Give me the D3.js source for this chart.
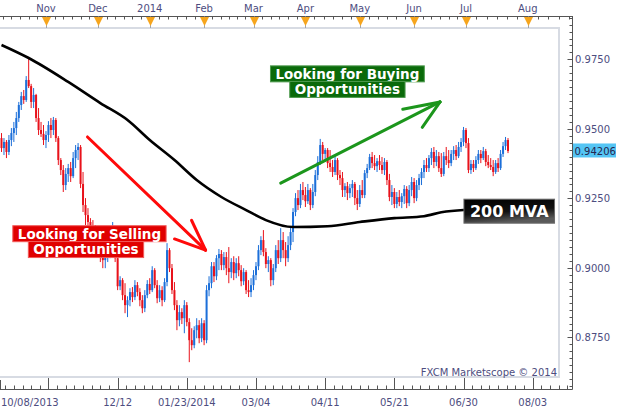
<!DOCTYPE html>
<html><head><meta charset="utf-8">
<script src="https://cdn.jsdelivr.net/npm/d3@7"></script>
<style>html,body{margin:0;padding:0;background:#fff;}svg{display:block;}</style>
</head><body><svg id="chart" width="623" height="413"></svg>
<script>
// ---------------- DATA ----------------
const startDate = "2013-10-08";
const holidays = ["2013-12-25", "2014-01-01"];
const futureEnd = "2014-08-10";

const open = [
0.9467,0.9431,0.9453,0.9417,0.9460,0.9485,0.9503,0.9539,0.9586,0.9618,
0.9604,0.9676,0.9654,0.9597,0.9622,0.9539,0.9496,0.9482,0.9460,0.9478,
0.9514,0.9496,0.9532,0.9467,0.9388,0.9352,0.9298,0.9338,0.9359,0.9330,
0.9395,0.9424,0.9435,0.9302,0.9226,0.9190,0.9165,0.9143,0.9129,0.9114,
0.9086,0.9042,0.9028,0.9050,0.9064,0.9078,0.9107,0.9035,0.8934,0.8956,
0.8902,0.8866,0.8884,0.8913,0.8895,0.8938,0.8913,0.8884,0.8855,0.8902,
0.8942,0.8920,0.8992,0.8938,0.8891,0.8920,0.8884,0.8949,0.9064,0.8999,
0.8920,0.8866,0.8812,0.8841,0.8819,0.8866,0.8805,0.8740,0.8722,0.8776,
0.8794,0.8747,0.8801,0.8740,0.8920,0.8945,0.9006,0.8970,0.9035,0.9050,
0.9010,0.9039,0.8999,0.8985,0.9021,0.8981,0.9017,0.8992,0.8952,0.8985,
0.8920,0.8913,0.8938,0.8974,0.9006,0.9064,0.9100,0.9057,0.9014,0.9028,
0.8956,0.8999,0.9064,0.9035,0.9100,0.9064,0.9035,0.9082,0.9129,0.9201,
0.9251,0.9226,0.9280,0.9262,0.9240,0.9280,0.9226,0.9273,0.9334,0.9381,
0.9442,0.9410,0.9424,0.9377,0.9363,0.9345,0.9388,0.9334,0.9323,0.9280,
0.9294,0.9269,0.9287,0.9302,0.9251,0.9230,0.9280,0.9262,0.9341,0.9359,
0.9399,0.9377,0.9366,0.9384,0.9370,0.9352,0.9381,0.9316,0.9255,0.9273,
0.9230,0.9255,0.9237,0.9258,0.9284,0.9233,0.9280,0.9309,0.9251,0.9298,
0.9323,0.9345,0.9370,0.9359,0.9395,0.9417,0.9381,0.9402,0.9359,0.9338,
0.9402,0.9388,0.9377,0.9410,0.9424,0.9402,0.9435,0.9453,0.9496,0.9449,
0.9352,0.9374,0.9359,0.9388,0.9410,0.9395,0.9420,0.9381,0.9370,0.9363,
0.9345,0.9377,0.9359,0.9410,0.9438,0.9460];

const high = [
0.9485,0.9467,0.9460,0.9478,0.9503,0.9525,0.9561,0.9597,0.9633,0.9640,
0.9690,0.9755,0.9662,0.9647,0.9626,0.9575,0.9525,0.9514,0.9492,0.9528,
0.9539,0.9543,0.9539,0.9474,0.9395,0.9370,0.9359,0.9374,0.9381,0.9417,
0.9442,0.9449,0.9442,0.9345,0.9251,0.9215,0.9179,0.9172,0.9154,0.9143,
0.9107,0.9071,0.9064,0.9078,0.9100,0.9165,0.9129,0.9042,0.8970,0.8963,
0.8945,0.8898,0.8927,0.8931,0.8956,0.8949,0.8927,0.8902,0.8920,0.8956,
0.8963,0.9006,0.8999,0.8956,0.8938,0.8934,0.8963,0.9089,0.9071,0.9014,
0.8949,0.8884,0.8866,0.8855,0.8884,0.8877,0.8819,0.8783,0.8790,0.8819,
0.8812,0.8819,0.8812,0.8938,0.8970,0.9021,0.9021,0.9046,0.9068,0.9064,
0.9057,0.9057,0.9075,0.9035,0.9042,0.9035,0.9042,0.9010,0.8999,0.8992,
0.8956,0.8963,0.8992,0.9021,0.9082,0.9114,0.9136,0.9071,0.9042,0.9035,
0.9014,0.9082,0.9100,0.9143,0.9129,0.9093,0.9114,0.9147,0.9215,0.9269,
0.9280,0.9302,0.9309,0.9291,0.9302,0.9287,0.9302,0.9352,0.9402,0.9464,
0.9453,0.9431,0.9431,0.9424,0.9388,0.9402,0.9395,0.9352,0.9345,0.9305,
0.9309,0.9302,0.9316,0.9309,0.9280,0.9298,0.9316,0.9352,0.9374,0.9410,
0.9417,0.9406,0.9395,0.9406,0.9399,0.9395,0.9388,0.9338,0.9298,0.9287,
0.9273,0.9280,0.9269,0.9298,0.9294,0.9298,0.9327,0.9323,0.9316,0.9338,
0.9359,0.9388,0.9395,0.9406,0.9431,0.9435,0.9424,0.9417,0.9413,0.9417,
0.9435,0.9424,0.9424,0.9438,0.9442,0.9453,0.9467,0.9507,0.9503,0.9467,
0.9388,0.9388,0.9402,0.9424,0.9424,0.9435,0.9428,0.9406,0.9395,0.9388,
0.9388,0.9395,0.9424,0.9453,0.9471,0.9467];

const low = [
0.9417,0.9406,0.9395,0.9406,0.9438,0.9453,0.9478,0.9525,0.9568,0.9590,
0.9597,0.9647,0.9575,0.9575,0.9525,0.9478,0.9471,0.9442,0.9431,0.9453,
0.9467,0.9478,0.9453,0.9370,0.9334,0.9273,0.9280,0.9309,0.9309,0.9323,
0.9359,0.9388,0.9287,0.9201,0.9154,0.9143,0.9118,0.9100,0.9093,0.9071,
0.9021,0.8999,0.8999,0.9021,0.9035,0.9057,0.9021,0.8920,0.8920,0.8884,
0.8837,0.8823,0.8862,0.8877,0.8884,0.8898,0.8862,0.8837,0.8841,0.8891,
0.8906,0.8913,0.8927,0.8873,0.8877,0.8862,0.8877,0.8934,0.8985,0.8906,
0.8848,0.8776,0.8790,0.8798,0.8765,0.8790,0.8661,0.8704,0.8711,0.8747,
0.8729,0.8733,0.8722,0.8729,0.8898,0.8927,0.8949,0.8956,0.8992,0.8992,
0.8992,0.8974,0.8945,0.8963,0.8956,0.8963,0.8970,0.8934,0.8938,0.8906,
0.8895,0.8895,0.8920,0.8956,0.8992,0.9046,0.9042,0.8999,0.8985,0.8934,
0.8938,0.8985,0.9014,0.9021,0.9035,0.9006,0.9021,0.9064,0.9093,0.9186,
0.9208,0.9215,0.9244,0.9219,0.9230,0.9208,0.9215,0.9258,0.9316,0.9370,
0.9388,0.9381,0.9359,0.9345,0.9327,0.9334,0.9316,0.9298,0.9255,0.9255,
0.9244,0.9251,0.9255,0.9226,0.9208,0.9219,0.9251,0.9251,0.9323,0.9352,
0.9359,0.9352,0.9345,0.9352,0.9338,0.9334,0.9298,0.9240,0.9226,0.9215,
0.9215,0.9222,0.9215,0.9230,0.9215,0.9222,0.9258,0.9233,0.9240,0.9280,
0.9298,0.9323,0.9345,0.9345,0.9370,0.9359,0.9366,0.9345,0.9327,0.9330,
0.9370,0.9359,0.9366,0.9388,0.9388,0.9395,0.9417,0.9438,0.9431,0.9341,
0.9338,0.9345,0.9352,0.9374,0.9377,0.9388,0.9366,0.9359,0.9352,0.9330,
0.9338,0.9345,0.9352,0.9399,0.9424,0.9413];

const close = [
0.9431,0.9453,0.9417,0.9460,0.9485,0.9503,0.9539,0.9586,0.9618,0.9604,
0.9676,0.9654,0.9597,0.9622,0.9539,0.9496,0.9482,0.9460,0.9478,0.9514,
0.9496,0.9532,0.9467,0.9388,0.9352,0.9298,0.9338,0.9359,0.9330,0.9395,
0.9424,0.9435,0.9302,0.9226,0.9190,0.9165,0.9143,0.9129,0.9114,0.9086,
0.9042,0.9028,0.9050,0.9064,0.9078,0.9107,0.9035,0.8934,0.8956,0.8902,
0.8866,0.8884,0.8913,0.8895,0.8938,0.8913,0.8884,0.8855,0.8902,0.8942,
0.8920,0.8992,0.8938,0.8891,0.8920,0.8884,0.8949,0.9064,0.8999,0.8920,
0.8866,0.8812,0.8841,0.8819,0.8866,0.8805,0.8740,0.8722,0.8776,0.8794,
0.8747,0.8801,0.8740,0.8920,0.8945,0.9006,0.8970,0.9035,0.9050,0.9010,
0.9039,0.8999,0.8985,0.9021,0.8981,0.9017,0.8992,0.8952,0.8985,0.8920,
0.8913,0.8938,0.8974,0.9006,0.9064,0.9100,0.9057,0.9014,0.9028,0.8956,
0.8999,0.9064,0.9035,0.9100,0.9064,0.9035,0.9082,0.9129,0.9201,0.9251,
0.9226,0.9280,0.9262,0.9240,0.9280,0.9226,0.9273,0.9334,0.9381,0.9442,
0.9410,0.9424,0.9377,0.9363,0.9345,0.9388,0.9334,0.9323,0.9280,0.9294,
0.9269,0.9287,0.9302,0.9251,0.9230,0.9280,0.9262,0.9341,0.9359,0.9399,
0.9377,0.9366,0.9384,0.9370,0.9352,0.9381,0.9316,0.9255,0.9273,0.9230,
0.9255,0.9237,0.9258,0.9284,0.9233,0.9280,0.9309,0.9251,0.9298,0.9323,
0.9345,0.9370,0.9359,0.9395,0.9417,0.9381,0.9402,0.9359,0.9338,0.9402,
0.9388,0.9377,0.9410,0.9424,0.9402,0.9435,0.9453,0.9496,0.9449,0.9352,
0.9374,0.9359,0.9388,0.9410,0.9395,0.9420,0.9381,0.9370,0.9363,0.9345,
0.9377,0.9359,0.9410,0.9438,0.9460,0.94206];

// 200-period moving average, sampled (bar index, value)
const mvaIndex = [0, 11, 27, 40, 51, 60, 70, 79, 89, 99, 107, 118, 132, 145, 159, 171, 178, 187, 205];
const mvaValue = [0.9802, 0.9755, 0.9669, 0.9593, 0.9532, 0.9460, 0.9388, 0.9316, 0.9255, 0.9208,
                  0.9172, 0.9147, 0.9150, 0.9165, 0.9179, 0.9186, 0.9200, 0.9208, 0.9212];

const monthLabels = ["Nov", "Dec", "2014", "Feb", "Mar", "Apr", "May", "Jun", "Jul", "Aug"];
const monthStarts = ["2013-11-01", "2013-12-01", "2014-01-01", "2014-02-01", "2014-03-01",
                     "2014-04-01", "2014-05-01", "2014-06-01", "2014-07-01", "2014-08-01"];
const bottomTickDates = ["2013-11-04", "2013-12-12", "2014-01-23", "2014-03-04", "2014-04-11",
                         "2014-05-21", "2014-06-30", "2014-08-03"];
const bottomLabels = ["", "12/12", "01/23/2014", "03/04", "04/11", "05/21", "06/30", "08/03"];
const firstDateLabel = "10/08/2013";
const priceTicks = [0.875, 0.900, 0.925, 0.950, 0.975];
const lastPrice = 0.94206;

// annotations in data space (bar index, price)
const sellArrow = [[34.8, 0.9471], [82.6, 0.9064]];
const buyArrow = [[113, 0.9305], [177.5, 0.9597]];
const sellText = ["Looking for Selling", "Opportunities"];
const sellTextPos = [[35.6, 0.9123], [34.2, 0.9066]];
const buyText = ["Looking for Buying", "Opportunities"];
const buyTextPos = [[140, 0.9698], [140, 0.9642]];
const mvaText = "200 MVA";
const mvaTextPos = [205.5, 0.9204];
const credit = "FXCM Marketscope © 2014";

// ---------------- CHART ----------------
const FONT = "'DejaVu Sans', Verdana, sans-serif";
const TXT = "#4d4d80";
const BLUE = "#1c6fd9", RED = "#e8121b";
const AX = "#555";

const svg = d3.select("#chart");
svg.append("rect").attr("width", 623).attr("height", 413).attr("fill", "#fff");

// calendar of bars (trading days), then calendar days for the future part of the axis
const parse = d3.utcParse("%Y-%m-%d"), fmt = d3.utcFormat("%Y-%m-%d");
const axisDates = [];
let cur = parse(startDate);
while (axisDates.length < close.length) {
  const wd = cur.getUTCDay();
  if (wd !== 0 && wd !== 6 && !holidays.includes(fmt(cur))) axisDates.push(cur);
  cur = d3.utcDay.offset(cur, 1);
}
const endD = parse(futureEnd);
while (cur <= endD) { axisDates.push(cur); cur = d3.utcDay.offset(cur, 1); }
const idxOf = s => { const t = parse(s); return axisDates.findIndex(a => a >= t); };

const x = d3.scaleLinear().domain([0, 205]).range([1.5, 508]);
const y = d3.scaleLinear().domain([0.875, 0.975]).range([337.4, 59.4]);

// plot frame
const PL = 0, PT = 28, PR = 559, PB = 377;
svg.append("path").attr("d", `M${PL},${PT} H${PR} V${PB} H${PL}`)
  .attr("fill", "none").attr("stroke", "#d7dbe3").attr("stroke-width", 2);

svg.append("clipPath").attr("id", "clip").append("rect")
  .attr("x", PL).attr("y", PT + 1).attr("width", PR - PL - 1).attr("height", PB - PT - 2);
const plot = svg.append("g").attr("clip-path", "url(#clip)");

// candles
const bars = close.map((c, i) => ({ i, o: open[i], h: high[i], l: low[i], c }));
const cg = plot.append("g");
cg.selectAll("line").data(bars).join("line")
  .attr("x1", d => x(d.i)).attr("x2", d => x(d.i))
  .attr("y1", d => y(d.h)).attr("y2", d => y(d.l))
  .attr("stroke", d => d.c >= d.o ? BLUE : RED).attr("stroke-width", 1);
cg.selectAll("rect").data(bars).join("rect")
  .attr("x", d => x(d.i) - 1).attr("width", 2)
  .attr("y", d => y(Math.max(d.o, d.c)))
  .attr("height", d => Math.max(1, Math.abs(y(d.o) - y(d.c))))
  .attr("fill", d => d.c >= d.o ? BLUE : RED);

// moving average
const mva = mvaIndex.map((k, j) => [k, mvaValue[j]]);
plot.append("path").datum(mva)
  .attr("d", d3.line().x(d => x(d[0])).y(d => y(d[1])).curve(d3.curveMonotoneX))
  .attr("fill", "none").attr("stroke", "#000").attr("stroke-width", 2.6);

// ---- top axis ----
const topAx = svg.append("g");
topAx.append("line").attr("x1", 0).attr("x2", 572.5).attr("y1", 16.5).attr("y2", 16.5).attr("stroke", AX);
const monthPx = monthStarts.map(s => x(idxOf(s)));
const topMinor = [];
{
  const s0 = (monthPx[1] - monthPx[0]) / 6;
  for (let p = monthPx[0] - s0; p >= 0; p -= s0) topMinor.push(p);
  for (let k = 0; k < monthPx.length - 1; k++) {
    const st = (monthPx[k + 1] - monthPx[k]) / 6;
    for (let j = 1; j < 6; j++) topMinor.push(monthPx[k] + j * st);
  }
  const n = monthPx.length;
  const sl = (monthPx[n - 1] - monthPx[n - 2]) / 6;
  for (let p = monthPx[n - 1] + sl; p <= 572; p += sl) topMinor.push(p);
}
topAx.selectAll("line.mn").data(topMinor).join("line").attr("class", "mn")
  .attr("x1", d => Math.round(d) + 0.5).attr("x2", d => Math.round(d) + 0.5)
  .attr("y1", 16.5).attr("y2", 19.5).attr("stroke", AX);
topAx.selectAll("line.mj").data(monthPx).join("line").attr("class", "mj")
  .attr("x1", d => Math.round(d) + 0.5).attr("x2", d => Math.round(d) + 0.5)
  .attr("y1", 16.5).attr("y2", 28).attr("stroke", "#a0a4ac");
topAx.selectAll("path.tri").data(monthPx).join("path").attr("class", "tri")
  .attr("d", d => { const c = Math.round(d) + 0.5; return `M${c - 4.5},17 L${c + 4.5},17 L${c},26 Z`; })
  .attr("fill", "#f6a51d");
topAx.selectAll("text").data(monthLabels).join("text")
  .attr("x", (d, k) => monthPx[k]).attr("y", 12)
  .attr("text-anchor", "middle").attr("font-family", FONT).attr("font-size", 10)
  .attr("fill", TXT).text(d => d);

// ---- right axis ----
const rightAx = svg.append("g");
rightAx.append("line").attr("x1", 572.5).attr("x2", 572.5).attr("y1", 16).attr("y2", 389.5).attr("stroke", AX);
const minorVals = d3.range(343, 397).map(k => k * 0.0025);
rightAx.selectAll("line.mn").data(minorVals).join("line").attr("class", "mn")
  .attr("x1", 569.5).attr("x2", 572.5)
  .attr("y1", d => Math.round(y(d)) + 0.5).attr("y2", d => Math.round(y(d)) + 0.5).attr("stroke", AX);
rightAx.selectAll("line.mj").data(priceTicks).join("line").attr("class", "mj")
  .attr("x1", 567.5).attr("x2", 572.5)
  .attr("y1", d => Math.round(y(d)) + 0.5).attr("y2", d => Math.round(y(d)) + 0.5).attr("stroke", AX);
rightAx.selectAll("text").data(priceTicks).join("text")
  .attr("x", 575).attr("y", d => y(d) + 3.6)
  .attr("font-family", FONT).attr("font-size", 10).attr("fill", TXT)
  .text(d => d3.format(".4f")(d));
// last price marker
rightAx.append("rect").attr("x", 573).attr("y", y(lastPrice) - 7.5).attr("width", 43).attr("height", 14)
  .attr("fill", "#55c5f4");
rightAx.append("text").attr("x", 574.5).attr("y", y(lastPrice) + 3.6)
  .attr("font-family", FONT).attr("font-size", 10).attr("fill", "#262650")
  .text(d3.format(".5f")(lastPrice));

// ---- bottom axis ----
const botAx = svg.append("g");
botAx.append("line").attr("x1", 0).attr("x2", 572.5).attr("y1", 389.5).attr("y2", 389.5).attr("stroke", AX);
const botPx = bottomTickDates.map(s => x(idxOf(s)));
const botMinor = [];
{
  const s0 = (botPx[1] - botPx[0]) / 8;
  for (let p = botPx[0] - s0; p >= 0; p -= s0) botMinor.push(p);
  for (let k = 0; k < botPx.length - 1; k++) {
    const st = (botPx[k + 1] - botPx[k]) / 8;
    for (let j = 1; j < 8; j++) botMinor.push(botPx[k] + j * st);
  }
  const n = botPx.length, sl = (botPx[n - 1] - botPx[n - 2]) / 8;
  for (let p = botPx[n - 1] + sl; p <= 572; p += sl) botMinor.push(p);
}
botAx.selectAll("line.mn").data(botMinor).join("line").attr("class", "mn")
  .attr("x1", d => Math.round(d) + 0.5).attr("x2", d => Math.round(d) + 0.5)
  .attr("y1", 385.5).attr("y2", 389.5).attr("stroke", AX);
botAx.selectAll("line.mj").data(botPx).join("line").attr("class", "mj")
  .attr("x1", d => Math.round(d) + 0.5).attr("x2", d => Math.round(d) + 0.5)
  .attr("y1", 378).attr("y2", 389.5).attr("stroke", AX);
botAx.append("line").attr("x1", 0.5).attr("x2", 0.5).attr("y1", 380).attr("y2", 389.5).attr("stroke", AX);
botAx.selectAll("text.lb").data(bottomLabels).join("text").attr("class", "lb")
  .attr("x", (d, k) => botPx[k]).attr("y", 406)
  .attr("text-anchor", "middle").attr("font-family", FONT).attr("font-size", 10)
  .attr("fill", TXT).text(d => d);
botAx.append("text").attr("x", 1).attr("y", 406).attr("font-family", FONT).attr("font-size", 10)
  .attr("fill", TXT).text(firstDateLabel);

// credit
svg.append("text").attr("x", 557).attr("y", 375.5).attr("text-anchor", "end")
  .attr("font-family", FONT).attr("font-size", 10).attr("fill", TXT).text(credit);

// ---- annotations ----
const ann = svg.append("g");
function arrow(p0, p1, barbs, color) {
  const x0 = x(p0[0]), y0 = y(p0[1]), x1 = x(p1[0]), y1 = y(p1[1]);
  const back = Math.atan2(y1 - y0, x1 - x0) + Math.PI;
  const g = ann.append("g").attr("stroke", color).attr("stroke-width", 3).attr("stroke-linecap", "round");
  g.append("line").attr("x1", x0).attr("y1", y0).attr("x2", x1).attr("y2", y1);
  barbs.forEach(([da, len]) => {
    const a = back + da * Math.PI / 180;
    g.append("line").attr("x1", x1).attr("y1", y1)
      .attr("x2", x1 + len * Math.cos(a)).attr("y2", y1 + len * Math.sin(a));
  });
}
arrow(sellArrow[0], sellArrow[1], [[21, 33], [-24, 33]], "#ff0a0a");
arrow(buyArrow[0], buyArrow[1], [[16, 38], [-28, 31]], "#1c961c");

function boxedLines(lines, pos, fill, stroke, size, h) {
  lines.forEach((t, k) => {
    const cx = x(pos[k][0]), cy = y(pos[k][1]);
    const r = ann.append("rect");
    const tx = ann.append("text").attr("x", cx).attr("y", cy + size * 0.36)
      .attr("text-anchor", "middle").attr("font-family", FONT).attr("font-weight", "bold")
      .attr("font-size", size).attr("fill", "#fff").text(t);
    const w = tx.node().getComputedTextLength();
    r.attr("x", cx - w / 2 - 5).attr("y", cy - h / 2).attr("width", w + 10).attr("height", h)
      .attr("fill", fill).attr("stroke", stroke).attr("stroke-width", 1);
  });
}
boxedLines(sellText, sellTextPos, "#e00000", "#f25a5a", 13.5, 16);
boxedLines(buyText, buyTextPos, "#0a6a0a", "#4f9b4f", 13.5, 16);

// 200 MVA label
const defs = svg.append("defs");
const grad = defs.append("linearGradient").attr("id", "mvag").attr("x1", 0).attr("y1", 0).attr("x2", 0.3).attr("y2", 1);
grad.append("stop").attr("offset", "0%").attr("stop-color", "#000");
grad.append("stop").attr("offset", "60%").attr("stop-color", "#111");
grad.append("stop").attr("offset", "100%").attr("stop-color", "#5a5a5a");
{
  const cx = x(mvaTextPos[0]), cy = y(mvaTextPos[1]);
  const r = ann.append("rect");
  const tx = ann.append("text").attr("x", cx).attr("y", cy + 16 * 0.36)
    .attr("text-anchor", "middle").attr("font-family", FONT).attr("font-weight", "bold")
    .attr("font-size", 16).attr("fill", "#fff").text(mvaText);
  const w = tx.node().getComputedTextLength();
  r.attr("x", cx - w / 2 - 6).attr("y", cy - 12).attr("width", w + 12).attr("height", 24)
    .attr("fill", "url(#mvag)").attr("stroke", "#6a6a6a").attr("stroke-width", 1);
}
</script>
</body></html>
